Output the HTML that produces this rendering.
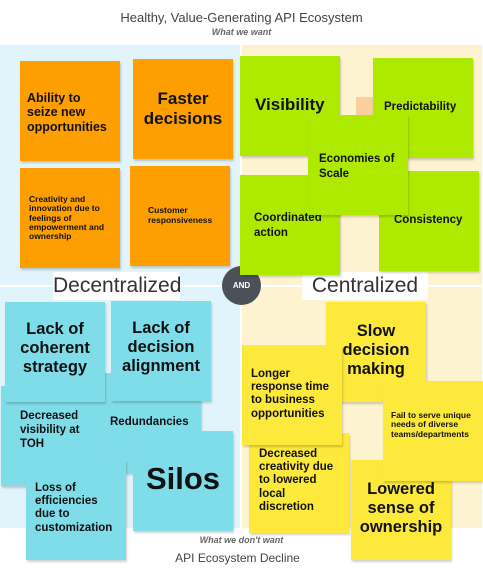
<!DOCTYPE html>
<html><head><meta charset="utf-8"><style>
*{margin:0;padding:0;box-sizing:border-box}
body{width:483px;height:572px;position:relative;background:#fff;font-family:"Liberation Sans",sans-serif;overflow:hidden}
.a{position:absolute}
.s{position:absolute;width:100px;height:100px;box-shadow:1px 2px 2px rgba(0,0,0,0.18);font-weight:bold;color:#111;line-height:1.15}
.o{background:#fd9f00}.g{background:#aeea00}.c{background:#7fdde9}.y{background:#fde93b}
.t{position:absolute;left:0;right:0;text-align:center}
</style></head><body>
<div class="t" style="top:10px;font-size:13px;color:#444">Healthy, Value-Generating API Ecosystem</div>
<div class="t" style="top:27px;font-size:9px;color:#666;font-style:italic;font-weight:bold">What we want</div>
<div class="a" style="left:0;top:45px;width:240px;height:483px;background:#e1f3fb"></div>
<div class="a" style="left:242px;top:45px;width:240px;height:483px;background:#fdf3d1"></div>
<div class="a" style="left:0;top:285px;width:483px;height:2px;background:#fff"></div>
<div class="a" style="left:240px;top:45px;width:2px;height:483px;background:#fff"></div>
<div class="a" style="left:356px;top:97px;width:17px;height:18px;background:#f9cf9b"></div>
<div class="a" style="left:53px;top:272px;width:127px;height:28px;background:#fff;border-radius:3px;font-size:21px;color:#333;text-align:center;line-height:28px">Decentralized</div>
<div class="a" style="left:302px;top:272px;width:126px;height:28px;background:#fff;border-radius:3px;font-size:21px;color:#333;text-align:center;line-height:28px">Centralized</div>
<div class="a" style="left:222px;top:266px;width:39px;height:39px;border-radius:50%;background:#4c5159;color:#fff;font-size:8px;font-weight:bold;text-align:center;line-height:39px">AND</div>

<div class="s o" style="left:20px;top:61px;padding:30px 7px;font-size:12.5px">Ability to seize new opportunities</div>
<div class="s o" style="left:133px;top:59px;padding:30px 0;font-size:17px;text-align:center">Faster decisions</div>
<div class="s o" style="left:20px;top:168px;padding:27px 9px;font-size:8.5px;line-height:1.1">Creativity and innovation due to feelings of empowerment and ownership</div>
<div class="s o" style="left:130px;top:166px;padding:40px 18px;font-size:8.5px;line-height:1.15">Customer responsiveness</div>

<div class="s g" style="left:240px;top:56px;padding:39px 15px;font-size:17px">Visibility</div>
<div class="s g" style="left:373px;top:58px;padding:43px 11px;font-size:11.5px">Predictability</div>
<div class="s g" style="left:240px;top:175px;padding:36px 14px;font-size:11.5px;line-height:1.3">Coordinated action</div>
<div class="s g" style="left:379px;top:171px;padding:43px 15px;font-size:11.5px">Consistency</div>
<div class="s g" style="left:308px;top:115px;padding:37px 11px;font-size:11.5px;line-height:1.3">Economies of Scale</div>

<div class="s c" style="left:1px;top:386px;padding:24px 19px;font-size:11.5px;line-height:1.2">Decreased visibility at TOH</div>
<div class="s c" style="left:101px;top:373px;padding:43px 9px;font-size:11.5px">Redundancies</div>
<div class="s c" style="left:5px;top:302px;padding:18px 0;font-size:16.5px;text-align:center;line-height:1.15">Lack of coherent strategy</div>
<div class="s c" style="left:111px;top:301px;padding:18px 0;font-size:16.5px;text-align:center;line-height:1.15">Lack of decision alignment</div>
<div class="s c" style="left:26px;top:460px;padding:22px 9px;font-size:11.5px;line-height:1.15">Loss of efficiencies due to customization</div>
<div class="s c" style="left:133px;top:431px;padding:30px 0;font-size:31px;text-align:center">Silos</div>

<div class="s y" style="left:326px;top:302px;padding:20px 0;font-size:16.5px;text-align:center;line-height:1.15">Slow decision making</div>
<div class="s y" style="left:249px;top:433px;padding:15px 10px;font-size:11.5px;line-height:1.15">Decreased creativity due to lowered local discretion</div>
<div class="s y" style="left:242px;top:345px;padding:23px 9px;font-size:11.5px;line-height:1.15">Longer response time to business opportunities</div>
<div class="s y" style="left:351px;top:460px;padding:20px 0;font-size:16.5px;text-align:center;line-height:1.15">Lowered sense of ownership</div>
<div class="s y" style="left:383px;top:381px;padding:30px 8px;font-size:8.5px;line-height:1.1">Fail to serve unique needs of diverse teams/departments</div>

<div class="t" style="top:535px;font-size:9px;color:#666;font-style:italic;font-weight:bold">What we don't want</div>
<div class="t" style="top:551px;font-size:12px;color:#444;left:-8px">API Ecosystem Decline</div>
</body></html>
